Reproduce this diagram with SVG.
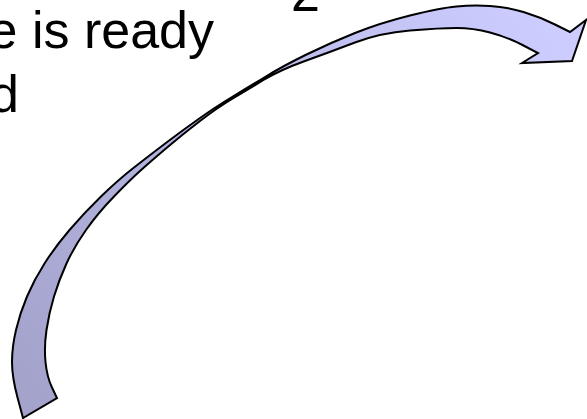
<svg xmlns="http://www.w3.org/2000/svg" width="587" height="419" viewBox="0 0 587 419">
<defs>
<style>
.t{font-family:"Liberation Sans",Arial,sans-serif;font-size:52px;fill:#000}
.arrow{stroke:#000;stroke-width:2;stroke-linejoin:miter;fill:url(#g)}
</style>
<linearGradient id="g" gradientUnits="userSpaceOnUse" x1="540" y1="20" x2="40" y2="400">
<stop offset="0" stop-color="#CCCCFF"/>
<stop offset="1" stop-color="#A3A3CC"/>
</linearGradient>
</defs>
<rect width="587" height="419" fill="#fff"/>
<g id="text">
<text class="t" x="214" y="48" text-anchor="end">e is ready</text>
<text class="t" x="-10" y="112">d</text>
<text class="t" x="291" y="11">2</text>
</g>
<g id="connectors">
<path class="arrow" d="M23,418 L17.5,397.5 Q12,377 12,362 Q12,347 16,330 Q20,313 27,296.5 Q34,280 44.5,263.5 Q55,247 69.5,230 Q84,213 101,196.5 Q118,180 134,167.5 Q150,155 166.5,142.5 Q183,130 200,118 Q217,106 232,97 Q247,88 265,77 Q283,66 306.5,54.5 Q330,43 355,33 Q380,23 410,15.5 Q440,8 456.5,6.5 Q473,5 490,6 Q507,7 523.5,12 Q540,17 555,24.5 L570,32 L586,20 L572,61 L522,63 L538,53 L522.5,45 Q507,37 490,32.5 Q473,28 456.5,28 Q440,28 410,30.5 Q380,33 355,42.5 Q330,52 305,61 Q280,70 263.5,80 Q247,90 232,99 Q217,108 200,121 Q183,134 166.5,148 Q150,162 140,171 Q130,180 114,196.5 Q98,213 86,230 Q74,247 66.5,263.5 Q59,280 54,296.5 Q49,313 46.5,330 Q44,347 45.5,362 Q47,377 52,387.5 L57,398 Z"/>
</g>
</svg>
